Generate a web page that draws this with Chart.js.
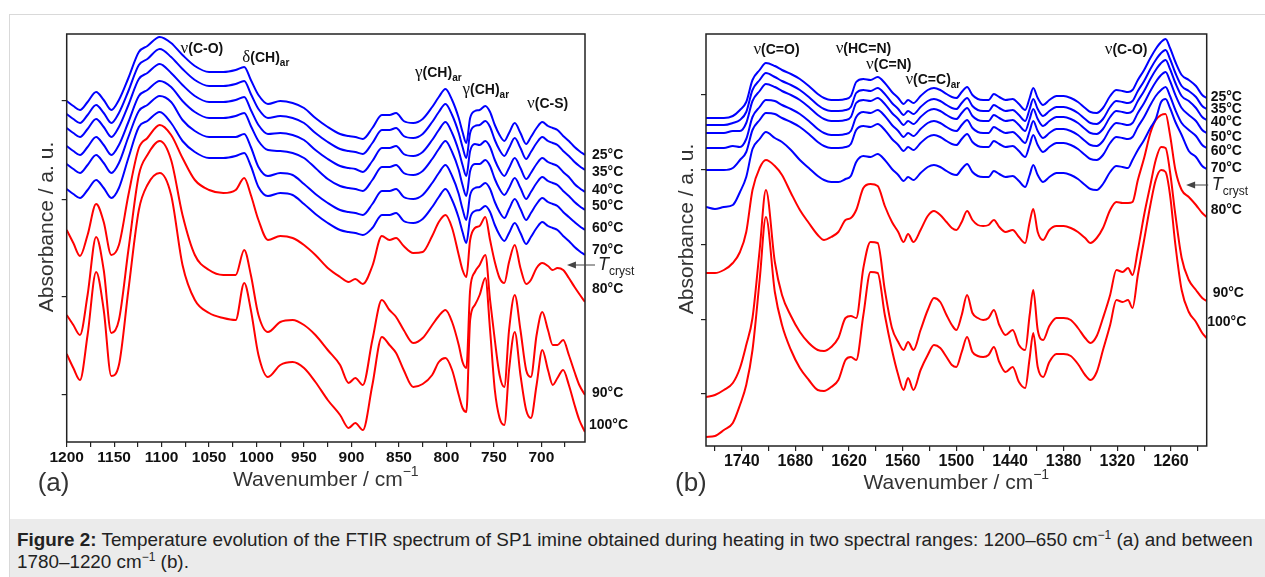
<!DOCTYPE html>
<html>
<head>
<meta charset="utf-8">
<script src="https://cdn.jsdelivr.net/npm/chart.js@4.4.1/dist/chart.umd.min.js"></script>
<style>
  html, body { margin: 0; padding: 0; background: #fff; width: 1265px; height: 577px; overflow: hidden; }
  .frame { position: absolute; left: 9px; top: 14px; width: 1256px; height: 563px; border-top: 1px solid #d9d9d9; border-left: 1px solid #d9d9d9; }
  canvas { position: absolute; top: 0; }
  #ca { left: 0; }
  #cb { left: 640px; }
  .cap { position: absolute; left: 10px; top: 519px; width: 1255px; height: 58px; box-sizing: border-box; background: #ebebeb;
         padding: 10px 0 0 7px; font: 18.85px/22px 'Liberation Sans', Arial, sans-serif; color: #222; white-space: nowrap; }
  .cap sup { font-size: 12px; line-height: 0; vertical-align: 7px; }
</style>
</head>
<body>
<div class="frame"></div>
<canvas id="ca" width="640" height="515" style="width:640px;height:515px"></canvas>
<canvas id="cb" width="625" height="515" style="width:625px;height:515px"></canvas>
<div class="cap"><b>Figure 2:</b> Temperature evolution of the FTIR spectrum of SP1 imine obtained during heating in two spectral ranges: 1200–650 cm<sup>−1</sup> (a) and between<br>1780–1220 cm<sup>−1</sup> (b).</div>
<script>
// temperatures (first six before crystallisation, blue; last three red)
const temps = ['25°C', '35°C', '40°C', '50°C', '60°C', '70°C', '80°C', '90°C', '100°C'];

// ---- panel (a): 1200-654 cm-1, absorbance in a.u. (stacked) ----
const wnA = [1200,1193,1186,1178,1169,1161,1153,1145,1135,1124,1115,1102,1090,1078,1065,1050,1035,1022,1013,1006,998,988,975,962,950,938,925,912,903,896,888,878,868,860,853,845,835,825,815,808,801,794,787,783,779,775,770,765,759,754,749,744,739,734,728,722,716,711,705,699,693,688,683,677,671,665,660,654];
const a25 = [341,336,332,340,350,342,332,342,364,390,396,405,399,387,376,370,370,372,375,362,347,338,341,339,334,324,315,308,306,305,303,314,327,327,329,321,319,323,335,345,353,342,324,310,299,324,331,332,336,330,317,307,301,309,319,309,298,305,314,320,316,314,312,306,301,295,291,287];
const a35 = [328,323,319,327,337,329,319,329,351,377,383,393,385,373,362,356,356,358,361,348,333,324,326,324,319,309,300,293,291,290,288,299,312,312,314,306,304,308,320,330,338,327,309,295,284,309,316,317,321,315,302,292,286,294,304,294,283,290,299,305,301,299,297,291,286,280,276,272];
const a40 = [314,309,305,313,323,315,305,315,337,363,369,378,369,357,346,340,340,342,345,332,317,308,309,307,302,292,283,276,274,273,270,281,294,294,296,288,286,290,302,312,320,309,291,277,266,291,298,297,301,295,282,272,266,274,284,274,263,269,278,284,280,278,276,270,265,258,254,250];
const a50 = [296,291,287,295,305,297,287,297,320,346,352,361,355,341,330,324,324,326,329,316,301,292,291,289,284,274,263,256,254,253,251,262,275,275,277,269,267,271,283,293,301,290,272,257,246,271,278,278,282,276,263,253,247,254,264,254,243,250,259,265,261,259,257,251,246,240,236,232];
const a60 = [278,273,269,277,287,279,269,279,305,331,337,346,340,322,311,305,305,305,308,295,275,266,269,267,258,248,239,232,230,229,227,238,251,251,253,245,243,247,259,269,277,266,248,233,222,247,254,255,259,253,240,230,224,233,243,233,222,229,238,244,240,238,236,230,225,220,216,212];
const a70 = [253,248,244,252,262,254,244,254,284,315,321,330,319,301,290,284,284,286,289,276,255,246,249,247,238,228,219,212,210,209,207,214,227,227,229,221,219,223,235,245,253,242,224,210,199,224,231,232,236,230,217,207,201,209,219,209,198,205,214,220,216,214,212,206,201,195,191,187];
const a80 = [212,199,186,207,238,220,187,197,247,294,304,317,307,284,262,252,249,252,264,247,222,202,206,204,197,187,174,165,160,163,158,176,206,202,204,196,189,190,206,220,227,214,187,172,165,202,214,216,225,202,180,164,159,180,197,174,158,162,174,179,176,172,174,172,164,155,148,140];
const a90 = [127,117,107,147,205,172,109,122,192,267,287,301,282,227,187,172,167,167,192,167,127,110,120,122,117,107,92,77,59,64,57,102,142,132,125,112,99,104,117,126,132,120,97,80,74,152,170,177,187,142,102,67,55,112,147,112,72,65,107,130,112,97,97,102,87,70,57,47];
const a100 = [88,74,62,107,170,132,66,77,152,232,257,269,247,177,142,129,124,122,159,132,87,65,77,80,74,60,42,27,14,19,12,57,105,97,89,72,55,58,67,80,84,72,47,34,30,122,137,147,164,112,52,24,17,72,110,67,32,24,57,92,72,57,64,72,57,37,22,10];
const xTicksA = [1200,1175,1150,1125,1100,1075,1050,1025,1000,975,950,925,900,875,850,825,800,775,750,725,700,675];
const xLabelsA = [1200,1150,1100,1050,1000,950,900,850,800,750,700];
const yTicksA = [47.7, 145.3, 242.7, 341.3];

// ---- panel (b): 1780-1220 cm-1 ----
const wnB = [1780,1770,1760,1750,1742,1735,1728,1720,1713,1703,1695,1685,1675,1665,1655,1648,1640,1632,1624,1618,1612,1604,1596,1588,1580,1572,1565,1559,1554,1548,1540,1532,1525,1518,1511,1505,1500,1494,1488,1482,1476,1470,1464,1458,1452,1445,1437,1430,1423,1418,1414,1409,1403,1396,1388,1380,1372,1364,1356,1350,1343,1336,1328,1321,1314,1308,1303,1297,1290,1283,1277,1271,1266,1261,1255,1248,1240,1232,1225,1220];
const b25 = [328,328,328,330,336,344,366,376,383,380,376,372,367,360,352,348,346,346,347,350,364,367,366,369,363,354,348,342,346,343,350,356,358,356,352,349,348,354,359,351,347,346,346,352,349,346,347,342,336,348,358,348,341,346,350,350,348,344,338,334,333,338,350,356,355,354,356,366,376,388,397,404,407,398,384,371,366,360,351,348];
const b35 = [321,321,321,323,326,334,356,366,373,369,365,361,356,349,341,337,335,335,336,339,353,356,355,358,352,343,337,331,335,332,339,345,347,345,341,338,337,343,348,340,336,335,335,341,338,335,336,331,325,337,347,337,330,335,339,339,337,333,327,323,322,327,339,345,344,343,345,355,365,377,386,393,396,387,373,360,355,349,340,337];
const b40 = [313,313,313,315,315,323,345,355,362,359,355,351,346,339,331,327,325,325,326,329,343,346,345,348,342,333,327,321,325,322,329,335,337,335,331,328,327,333,338,330,326,325,325,331,328,325,326,321,315,327,337,327,320,325,329,329,327,323,317,313,312,317,329,335,334,333,335,345,355,367,376,383,386,377,363,350,345,338,329,326];
const b50 = [298,298,298,300,299,307,329,339,346,345,341,337,332,325,317,313,311,311,312,315,329,334,333,336,330,321,315,309,313,310,317,323,325,323,319,316,315,321,326,318,314,313,313,319,316,313,314,309,303,315,325,315,308,313,317,317,315,311,305,301,300,305,317,323,322,321,323,333,343,355,364,371,374,365,351,338,331,325,316,313];
const b60 = [276,276,276,278,286,294,316,326,333,332,328,324,319,312,304,300,298,298,299,302,316,320,319,322,316,307,301,295,299,296,303,309,311,309,305,302,301,307,312,304,300,299,299,305,302,299,300,295,289,301,311,301,294,299,303,303,301,297,291,287,286,291,303,309,308,307,309,319,329,341,350,356,359,350,336,323,316,310,301,298];
const b70 = [239,237,239,241,254,269,297,307,314,308,304,296,286,278,270,266,264,264,267,270,284,290,289,292,286,277,271,265,269,266,273,279,281,279,275,272,271,277,282,274,270,269,269,275,272,269,270,265,259,271,281,271,264,269,273,273,271,267,261,257,256,262,274,280,279,278,286,296,306,318,327,344,347,338,324,311,295,289,280,277];
const b80 = [173,173,176,183,194,214,256,278,286,280,271,253,236,223,211,206,209,214,226,228,236,258,262,260,240,224,214,204,212,204,216,230,235,231,224,218,216,224,235,226,221,220,221,226,219,214,216,209,203,224,237,214,206,216,220,220,218,214,208,203,208,218,236,244,243,243,244,266,288,313,326,331,332,311,276,256,249,241,233,229];
const b90 = [49,51,56,63,78,101,128,196,256,184,151,130,114,103,96,95,99,108,128,130,128,178,204,203,156,118,104,96,104,96,116,136,148,144,131,121,116,131,151,133,128,126,128,136,121,111,116,101,96,131,156,116,106,120,128,128,126,118,108,103,110,128,151,176,174,178,171,196,231,261,286,299,298,274,231,188,166,156,148,145];
const b100 = [9,10,16,23,41,61,96,166,229,154,121,96,78,66,56,55,59,66,86,89,86,131,174,173,131,96,71,56,68,56,76,91,101,98,89,81,79,94,109,94,90,89,91,99,84,74,79,64,58,88,113,79,69,84,92,92,90,82,71,66,74,96,121,146,144,146,138,171,206,241,266,276,274,251,201,156,134,124,113,108];
const xTicksB = [1770,1740,1710,1680,1650,1620,1590,1560,1530,1500,1470,1440,1410,1380,1350,1320,1290,1260,1230];
const xLabelsB = [1740,1680,1620,1560,1500,1440,1380,1320,1260];
const yTicksB = [52, 126, 201, 276, 351];

// ---- styling ----
const SANS = "'Liberation Sans', Arial, Helvetica, sans-serif";
const SERIF = "'Liberation Serif', 'Times New Roman', serif";
const LAB = 'bold 14px ' + SANS;
const GREEK = '17px ' + SERIF;
const SUBF = 'bold 10px ' + SANS;
const BLUE = '#0000ff', RED = '#ff0000';

Chart.defaults.font.family = SANS;
Chart.defaults.color = '#111';

function drawParts(ctx, x, y, parts, align) {
  let w = 0;
  parts.forEach(p => { ctx.font = p[1]; w += ctx.measureText(p[0]).width; });
  let cx = align === 'center' ? x - w / 2 : x;
  ctx.textAlign = 'left';
  ctx.textBaseline = 'middle';
  parts.forEach(p => {
    ctx.font = p[1];
    ctx.fillText(p[0], cx, y + (p[2] || 0));
    cx += ctx.measureText(p[0]).width;
  });
}

// draws frame box, band labels, temperature labels, T_cryst arrow and axis titles
function figurePlugin(cfg) {
  return {
    id: 'figure' + cfg.tag,
    afterDraw(chart) {
      const ctx = chart.ctx, a = chart.chartArea;
      const xs = chart.scales.x, ys = chart.scales.y;
      ctx.save();
      ctx.strokeStyle = '#222';
      ctx.lineWidth = 1.5;
      ctx.strokeRect(a.left, a.top, a.right - a.left, a.bottom - a.top);

      ctx.fillStyle = '#111';
      cfg.bands.forEach(b => drawParts(ctx, xs.getPixelForValue(b.wn), ys.getPixelForValue(b.v), b.parts, 'left'));

      temps.forEach((t, i) => {
        ctx.font = 'bold 14px ' + SANS;
        ctx.textAlign = 'left';
        ctx.textBaseline = 'middle';
        ctx.fillText(t, a.right + cfg.tempDx[i], ys.getPixelForValue(cfg.tempV[i]));
      });

      // T_cryst arrow
      const k = cfg.cryst;
      const tx = xs.getPixelForValue(k.wn), ty = ys.getPixelForValue(k.v);
      ctx.strokeStyle = '#444';
      ctx.fillStyle = '#444';
      ctx.lineWidth = 1;
      ctx.beginPath();
      ctx.moveTo(a.right + k.tail, ty);
      ctx.lineTo(tx + 6, ty);
      ctx.stroke();
      ctx.beginPath();
      ctx.moveTo(tx, ty);
      ctx.lineTo(tx + 9, ty - 3.5);
      ctx.lineTo(tx + 9, ty + 3.5);
      ctx.closePath();
      ctx.fill();
      ctx.fillStyle = '#222';
      drawParts(ctx, a.right + k.text, ty, [['T', 'italic 18px ' + SANS], ['cryst', '12px ' + SANS, 7]], 'left');

      // axis titles and panel tag
      ctx.fillStyle = '#333';
      ctx.save();
      ctx.translate(a.left - 19, (a.top + a.bottom) / 2 - 11);
      ctx.rotate(-Math.PI / 2);
      ctx.font = '21px ' + SANS;
      ctx.textAlign = 'center';
      ctx.textBaseline = 'middle';
      ctx.fillText('Absorbance / a. u.', 0, 0);
      ctx.restore();
      drawParts(ctx, (a.left + a.right) / 2, a.bottom + cfg.xTitleDy,
        [['Wavenumber / cm', '21px ' + SANS], ['−1', '14px ' + SANS, -8]], 'center');
      ctx.font = '26px ' + SANS;
      ctx.textAlign = 'left';
      ctx.textBaseline = 'middle';
      ctx.fillText(cfg.tag, a.left + cfg.tagDx, a.bottom + cfg.tagDy);
      ctx.restore();
    }
  };
}

function makeChart(id, wn, series, xr, xTicks, xLabels, yTicks, yMax, pad, xBand, fontSize, cfg) {
  new Chart(document.getElementById(id), {
    type: 'line',
    data: {
      datasets: series.map((s, i) => ({
        label: temps[i],
        data: wn.map((w, j) => ({ x: w, y: s[j] })),
        borderColor: i < 6 ? BLUE : RED,
        borderWidth: 2,
        pointRadius: 0,
        fill: false,
        cubicInterpolationMode: 'monotone'
      }))
    },
    options: {
      responsive: false,
      animation: false,
      events: [],
      layout: { padding: pad },
      plugins: { legend: { display: false }, tooltip: { enabled: false } },
      scales: {
        x: {
          type: 'linear', reverse: true, min: xr[0], max: xr[1],
          afterBuildTicks: s => { s.ticks = xTicks.map(v => ({ value: v })); },
          afterFit: s => { s.height = xBand; },
          ticks: {
            autoSkip: false, maxRotation: 0, padding: 1, color: '#111',
            font: { size: fontSize, weight: 'bold' },
            callback: v => xLabels.includes(v) ? String(v) : ''
          },
          grid: { drawOnChartArea: false, tickLength: 5, color: '#222', lineWidth: 1.2 },
          border: { display: false }
        },
        y: {
          min: 0, max: yMax,
          afterBuildTicks: s => { s.ticks = yTicks.map(v => ({ value: v })); },
          afterFit: s => { s.width = 0; },
          ticks: { callback: () => '' },
          grid: { drawOnChartArea: false, tickLength: 5, color: '#222', lineWidth: 1.2 },
          border: { display: false }
        }
      }
    },
    plugins: [figurePlugin(cfg)]
  });
}

makeChart('ca', wnA, [a25, a35, a40, a50, a60, a70, a80, a90, a100], [654, 1200],
  xTicksA, xLabelsA, yTicksA, 408, { left: 66.7, right: 55, top: 34, bottom: 0 }, 73, 15.5, {
    tag: '(a)',
    bands: [
      { wn: 1080, v: 393, parts: [['ν', GREEK], ['(C-O)', LAB]] },
      { wn: 1015, v: 384, parts: [['δ', GREEK], ['(CH)', LAB], ['ar', SUBF, 5]] },
      { wn: 833, v: 369, parts: [['γ', GREEK], ['(CH)', LAB], ['ar', SUBF, 5]] },
      { wn: 783, v: 352, parts: [['γ', GREEK], ['(CH)', LAB], ['ar', SUBF, 5]] },
      { wn: 715, v: 338, parts: [['ν', GREEK], ['(C-S)', LAB]] }
    ],
    tempV: [287, 269.5, 252, 236, 214, 192, 153, 49, 17],
    tempDx: [7, 7, 7, 7, 7, 7, 7, 7, 4],
    cryst: { wn: 673, v: 177, tail: 10, text: 13 },
    xTitleDy: 38, tagDx: -29, tagDy: 42
  });

makeChart('cb', wnB, [b25, b35, b40, b50, b60, b70, b80, b90, b100], [1220, 1780],
  xTicksB, xLabelsB, yTicksB, 412, { left: 66, right: 58.3, top: 34, bottom: 0 }, 69, 16, {
    tag: '(b)',
    bands: [
      { wn: 1727, v: 396, parts: [['ν', GREEK], ['(C=O)', LAB]] },
      { wn: 1635, v: 397, parts: [['ν', GREEK], ['(HC=N)', LAB]] },
      { wn: 1601, v: 381, parts: [['ν', GREEK], ['(C=N)', LAB]] },
      { wn: 1557, v: 366, parts: [['ν', GREEK], ['(C=C)', LAB], ['ar', SUBF, 5]] },
      { wn: 1334, v: 396, parts: [['ν', GREEK], ['(C-O)', LAB]] }
    ],
    tempV: [349, 337, 324, 309, 295, 278, 236, 153, 124],
    tempDx: [4, 4, 4, 4, 4, 4, 4, 6, 0.5],
    cryst: { wn: 1243, v: 261, tail: 1.5, text: 5 },
    xTitleDy: 37, tagDx: -31, tagDy: 38
  });
</script>
</body>
</html>
